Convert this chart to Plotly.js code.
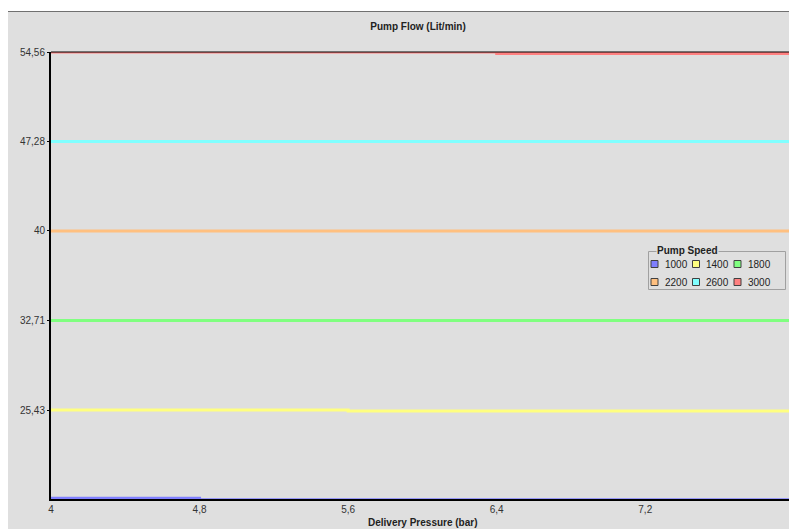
<!DOCTYPE html>
<html>
<head>
<meta charset="utf-8">
<script src="https://cdn.plot.ly/plotly-3.0.1.min.js"></script>
<style>
  html, body { margin: 0; padding: 0; background: #ffffff; overflow: hidden; }
  #chart { width: 789px; height: 529px; }
</style>
</head>
<body>
<div id="chart"></div>
<script>
// ---- data ----
const seriesNames = ['1000', '1400', '1800', '2200', '2600', '3000'];
const seriesColors = ['#8080ff', '#ffff80', '#80ff80', '#ffc080', '#80ffff', '#ff8080'];
const pressure = [4, 4.8, 5.6, 6.4, 7.2, 8.0];
const flow1000 = [18.25, 18.12, 18.12, 18.12, 18.12, 18.12];
const flow1400 = [25.43, 25.43, 25.35, 25.35, 25.35, 25.35];
const flow1800 = [32.71, 32.71, 32.71, 32.71, 32.71, 32.71];
const flow2200 = [40, 40, 40, 40, 40, 40];
const flow2600 = [47.28, 47.28, 47.28, 47.28, 47.28, 47.28];
const flow3000 = [54.56, 54.56, 54.56, 54.44, 54.44, 54.44];
const xTickVals = [4, 4.8, 5.6, 6.4, 7.2];
const xTickText = ['4', '4,8', '5,6', '6,4', '7,2'];
const yTickVals = [25.43, 32.71, 40, 47.28, 54.56];
const yTickText = ['25,43', '32,71', '40', '47,28', '54,56'];
const xTitle = 'Delivery Pressure (bar)';
const chartTitle = 'Pump Flow (Lit/min)';
const legendTitle = 'Pump Speed';
const flows = [flow1000, flow1400, flow1800, flow2200, flow2600, flow3000];

// ---- layout helpers (pixel -> paper) ----
const W = 789, H = 529, L = 51, T = 52, B = 30, R = 0;
const px = X => (X - L) / (W - L - R);
const py = Y => (H - B - Y) / (H - B - T);

const traces = seriesNames.map((name, i) => ({
  type: 'scatter',
  mode: 'lines',
  name: name,
  x: pressure,
  y: flows[i],
  line: { color: seriesColors[i], width: 3, shape: 'hv' },
  showlegend: false,
  hoverinfo: 'skip'
}));

const font = { family: 'Liberation Sans, Arial, sans-serif', size: 10, color: '#333333' };
const darkFont = { family: font.family, size: 10, color: '#222222' };

const shapes = [
  // white top/left strips
  { type: 'rect', xref: 'paper', yref: 'paper', x0: px(0), x1: px(W), y0: py(11), y1: py(0),
    fillcolor: '#ffffff', line: { width: 0 }, layer: 'below' },
  { type: 'rect', xref: 'paper', yref: 'paper', x0: px(0), x1: px(8), y0: py(H), y1: py(0),
    fillcolor: '#ffffff', line: { width: 0 }, layer: 'below' },
  // panel border line
  { type: 'line', xref: 'paper', yref: 'paper', x0: px(8), x1: px(W), y0: py(11.5), y1: py(11.5),
    line: { color: '#707070', width: 1 } },
  // top black line of plot area
  { type: 'line', xref: 'paper', yref: 'paper', x0: 0, x1: 1, y0: py(52), y1: py(52),
    line: { color: '#000000', width: 1 }, layer: 'above' },
  // legend frame
  { type: 'rect', xref: 'paper', yref: 'paper', x0: px(648.5), x1: px(785.5), y0: py(289.5), y1: py(251.5),
    line: { color: '#a0a0a0', width: 1 }, fillcolor: 'rgba(0,0,0,0)' }
];

const annotations = [
  { xref: 'paper', yref: 'paper', x: px(656), y: py(250), xanchor: 'left', yanchor: 'middle',
    text: '<b>' + legendTitle + '</b>', showarrow: false, bgcolor: '#dfdfdf', borderpad: 0, font: darkFont },
  // x axis title
  { xref: 'paper', yref: 'paper', x: px(423), y: py(522.5), xanchor: 'center', yanchor: 'middle',
    text: '<b>' + xTitle + '</b>', showarrow: false, font: darkFont }
];

seriesNames.forEach((name, i) => {
  const col = i % 3, row = Math.floor(i / 3);
  const cx = 654.5 + col * 41.5, cy = 264 + row * 18;
  shapes.push({ type: 'rect', xref: 'paper', yref: 'paper',
    x0: px(cx - 3.5), x1: px(cx + 3.5), y0: py(cy + 3.5), y1: py(cy - 3.5),
    fillcolor: seriesColors[i], line: { color: '#404040', width: 1 } });
  annotations.push({ xref: 'paper', yref: 'paper', x: px(cx + 8), y: py(cy), xanchor: 'left', yanchor: 'middle',
    text: name, showarrow: false, font: darkFont });
});

const layout = {
  width: W, height: H,
  margin: { l: L, r: R, t: T, b: B, pad: 0 },
  paper_bgcolor: '#dfdfdf',
  plot_bgcolor: '#dfdfdf',
  font: font,
  showlegend: false,
  title: { text: '<b>' + chartTitle + '</b>', x: 418 / W, xanchor: 'center', xref: 'container',
           y: 1 - 26 / H, yanchor: 'middle', yref: 'container', font: darkFont },
  xaxis: {
    range: [4, 7.974], tickvals: xTickVals, ticktext: xTickText,
    showgrid: false, zeroline: false, showline: true, linecolor: '#000000', linewidth: 2,
    ticks: '', tickfont: font, layer: 'above traces'
  },
  yaxis: {
    range: [18.19, 54.56], tickvals: yTickVals, ticktext: yTickText,
    showgrid: false, zeroline: false, showline: true, linecolor: '#000000', linewidth: 2,
    ticks: 'outside', ticklen: 2, tickcolor: '#000000', tickfont: font, layer: 'above traces'
  },
  shapes: shapes,
  annotations: annotations
};

Plotly.newPlot('chart', traces, layout, { staticPlot: true, displayModeBar: false });
</script>
</body>
</html>
